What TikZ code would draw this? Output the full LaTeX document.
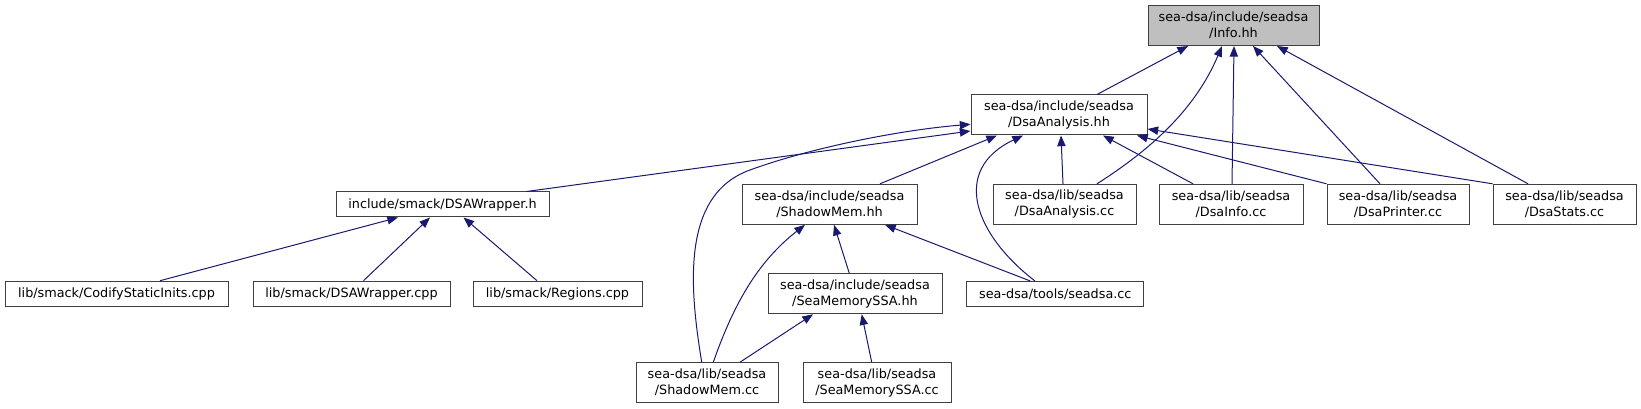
\documentclass[tikz,border=0pt]{standalone}
\usepackage{fontspec}
\setmainfont{DejaVu Sans}
\usetikzlibrary{arrows.meta,calc}
\definecolor{mynavy}{RGB}{25,25,112}
\definecolor{mygray}{RGB}{191,191,191}
\definecolor{myframe}{RGB}{64,64,64}

\begin{document}
\begin{tikzpicture}[x=0.75pt, y=-0.75pt,
  every node/.style={font=\fontsize{9.6}{12}\selectfont},
  box/.style={draw=myframe, line width=0.75pt, fill=white, align=center,
    inner sep=0pt, minimum height=30pt},
  onebox/.style={box, minimum height=18.75pt},
  dep/.style={mynavy, line width=0.75pt, -{Triangle[length=8pt,width=6.2pt]}}]
  \useasboundingbox (0,0) rectangle (1641,409);
  % --- top level ---
  \node[box, fill=mygray, minimum width=128.25pt] (info) at (1233.5,25.5)
    {sea-dsa/include/seadsa\\/Info.hh};
  \node[box, minimum width=132pt] (dsahh) at (1059,115)
    {sea-dsa/include/seadsa\\/DsaAnalysis.hh};
  % --- second row ---
  \node[onebox, minimum width=159.75pt] (wraph) at (442.5,204.5) {include/smack/DSAWrapper.h};
  \node[box, minimum width=131.25pt] (shadowhh) at (829.5,204.3)
    {sea-dsa/include/seadsa\\/ShadowMem.hh};
  \node[box, minimum width=107.25pt] (dsacc) at (1064.5,204.3)
    {sea-dsa/lib/seadsa\\/DsaAnalysis.cc};
  \node[box, minimum width=108pt] (dsainfo) at (1231,204.3)
    {sea-dsa/lib/seadsa\\/DsaInfo.cc};
  \node[box, minimum width=106.5pt] (dsaprinter) at (1398,204.3)
    {sea-dsa/lib/seadsa\\/DsaPrinter.cc};
  \node[box, minimum width=107.25pt] (dsastats) at (1564.5,204.3)
    {sea-dsa/lib/seadsa\\/DsaStats.cc};
  % --- third row ---
  \node[onebox, minimum width=167.25pt] (codify) at (116.5,293.7) {lib/smack/CodifyStaticInits.cpp};
  \node[onebox, minimum width=147.75pt] (wrapcpp) at (351.5,293.7) {lib/smack/DSAWrapper.cpp};
  \node[onebox, minimum width=126.75pt] (regions) at (557.5,293.7) {lib/smack/Regions.cpp};
  \node[box, minimum width=130.5pt] (ssahh) at (855,293.8)
    {sea-dsa/include/seadsa\\/SeaMemorySSA.hh};
  \node[onebox, minimum width=132.75pt] (seadsacc) at (1055.3,294) {sea-dsa/tools/seadsa.cc};
  % --- bottom row ---
  \node[box, minimum width=106.5pt] (shadowcc) at (707,382.7)
    {sea-dsa/lib/seadsa\\/ShadowMem.cc};
  \node[box, minimum width=111pt] (ssacc) at (877,382.7)
    {sea-dsa/lib/seadsa\\/SeaMemorySSA.cc};
  % --- into Info.hh ---
  \draw[dep] ($(dsahh.north)+(38,0)$) -- ($(info.south)+(-45.5,0)$);
  \draw[dep] ($(dsacc.north)+(32.5,0)$) .. controls (1150,150) and (1195,110) .. ($(info.south)+(-11.5,0)$);
  \draw[dep] ($(dsainfo.north)+(1,0)$) -- ($(info.south)+(0.5,0)$);
  \draw[dep] ($(dsaprinter.north)+(-18,0)$) -- ($(info.south)+(19.5,0)$);
  \draw[dep] ($(dsastats.north)+(-36.5,0)$) -- ($(info.south)+(43.5,0)$);
  % --- into DsaAnalysis.hh ---
  \draw[dep] ($(wraph.north)+(84,0)$) -- ($(dsahh.west)+(0,16)$);
  \draw[dep] ($(shadowcc.north)+(-5.3,0)$) .. controls (690,290) and (680,195) .. (750,170)
    .. controls (810,148) and (900,130) .. ($(dsahh.west)+(0,9.3)$);
  \draw[dep] ($(shadowhh.north)+(50.5,0)$) -- ($(dsahh.south)+(-62,0)$);
  \draw[dep] ($(seadsacc.north)+(-20.3,0)$) .. controls (975,235) and (950,170) .. ($(dsahh.south)+(-36,0)$);
  \draw[dep] ($(dsacc.north)+(-1.5,0)$) -- ($(dsahh.south)+(2,0)$);
  \draw[dep] ($(dsainfo.north)+(-38,0)$) -- ($(dsahh.south)+(44,0)$);
  \draw[dep] (dsaprinter.north west) -- ($(dsahh.south)+(78,0)$);
  \draw[dep] (dsastats.north west) -- ($(dsahh.east)+(0,14)$);
  % --- into DSAWrapper.h ---
  \draw[dep] ($(codify.north)+(43.5,0)$) -- ($(wraph.south)+(-44.5,0)$);
  \draw[dep] ($(wrapcpp.north)+(12,0)$) -- ($(wraph.south)+(-12.5,0)$);
  \draw[dep] ($(regions.north)+(-20.5,0)$) -- ($(wraph.south)+(21,0)$);
  % --- into ShadowMem.hh ---
  \draw[dep] ($(shadowcc.north)+(6.3,0)$) .. controls (735,300) and (760,260) .. ($(shadowhh.south)+(-24.5,0)$);
  \draw[dep] ($(ssahh.north)+(-5.7,0)$) -- ($(shadowhh.south)+(4.5,0)$);
  \draw[dep] ($(seadsacc.north)+(-25,0)$) -- ($(shadowhh.south)+(55.5,0)$);
  % --- into SeaMemorySSA.hh ---
  \draw[dep] ($(shadowcc.north)+(33,0)$) -- ($(ssahh.south)+(-42,0)$);
  \draw[dep] ($(ssacc.north)+(-5.3,0)$) -- ($(ssahh.south)+(6.7,0)$);
\end{tikzpicture}
\end{document}
